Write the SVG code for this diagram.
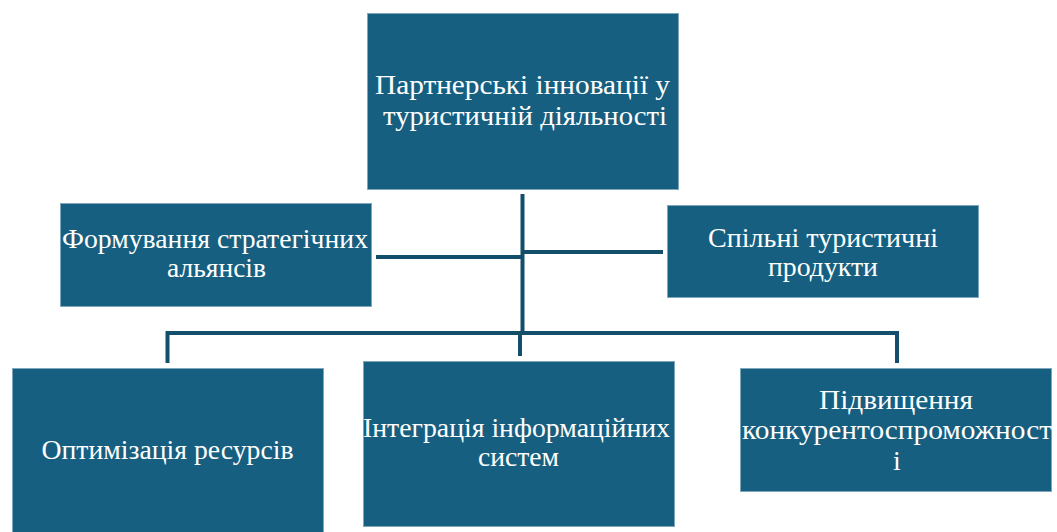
<svg xmlns="http://www.w3.org/2000/svg" width="1057" height="532" viewBox="0 0 1057 532">
<style>
.box{fill:#175f80;stroke:#7fa6ba;stroke-width:1}
.c{stroke:#134f6b;stroke-width:4;fill:none}
</style>
<rect width="1057" height="532" fill="#ffffff"/>
<g id="connectors">
<line class="c" x1="522.5" y1="194" x2="522.5" y2="333"/>
<line class="c" x1="376" y1="257" x2="522.5" y2="257"/>
<line class="c" x1="522.5" y1="252" x2="663" y2="252"/>
<polyline class="c" points="167.5,363 167.5,333 897,333 897,363"/>
<line class="c" x1="520" y1="331" x2="520" y2="356"/>
</g>
<g font-family="Liberation Serif" font-size="28" fill="#ffffff" text-anchor="middle">
<g id="n-top">
<rect class="box" x="367.5" y="13.5" width="311" height="176"/>
<text x="522.5" y="94" textLength="295" lengthAdjust="spacingAndGlyphs">Партнерські інновації у</text>
<text x="525" y="125" textLength="284" lengthAdjust="spacingAndGlyphs">туристичній діяльності</text>
</g>
<g id="n-alliances">
<rect class="box" x="60.5" y="203.5" width="311" height="103"/>
<text x="215" y="248" textLength="306" lengthAdjust="spacingAndGlyphs">Формування стратегічних</text>
<text x="216.5" y="277" textLength="99" lengthAdjust="spacingAndGlyphs">альянсів</text>
</g>
<g id="n-products">
<rect class="box" x="667.5" y="205.5" width="311" height="92"/>
<text x="823" y="247" textLength="230" lengthAdjust="spacingAndGlyphs">Спільні туристичні</text>
<text x="823" y="276" textLength="110" lengthAdjust="spacingAndGlyphs">продукти</text>
</g>
<g id="n-resources">
<rect class="box" x="12.5" y="368.5" width="311" height="170"/>
<text x="167.5" y="459" textLength="252" lengthAdjust="spacingAndGlyphs">Оптимізація ресурсів</text>
</g>
<g id="n-integration">
<rect class="box" x="363.5" y="361.5" width="311" height="165"/>
<text x="516.5" y="437" textLength="307" lengthAdjust="spacingAndGlyphs">Інтеграція інформаційних</text>
<text x="518.5" y="466" textLength="81" lengthAdjust="spacingAndGlyphs">систем</text>
</g>
<g id="n-competitiveness">
<rect class="box" x="740.5" y="368.5" width="311" height="123"/>
<text x="896" y="409" textLength="154" lengthAdjust="spacingAndGlyphs">Підвищення</text>
<text x="897" y="439" textLength="310" lengthAdjust="spacingAndGlyphs">конкурентоспроможност</text>
<text x="897" y="470">і</text>
</g>
</g>
</svg>
